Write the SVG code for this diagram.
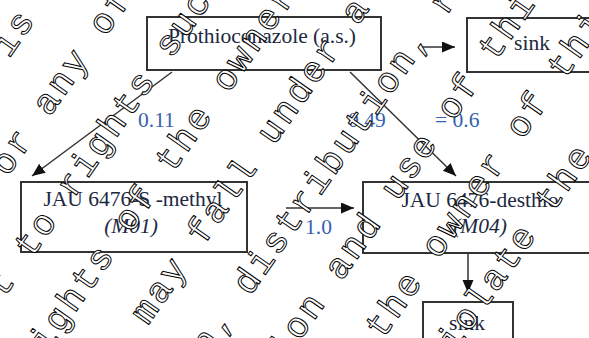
<svg xmlns="http://www.w3.org/2000/svg" width="589" height="338" viewBox="0 0 589 338">
  <style>
    .box { fill: #fff; stroke: #333; stroke-width: 2; }
    .lbl { font-family: "Liberation Serif", "Times New Roman", serif; font-size: 21.5px; fill: #202840; }
    .num { font-family: "Liberation Serif", "Times New Roman", serif; font-size: 21.5px; fill: #3462b0; }
    .it { font-style: italic; }
    .edge { stroke: #333; stroke-width: 1.5; fill: none; marker-end: url(#head); }
    .wm { font-family: "Liberation Mono", "Courier New", monospace; font-size: 36px; letter-spacing: 2.8px; fill: #fff; stroke: #000; stroke-width: 1; }
  </style>
  <defs>
    <marker id="head" markerUnits="userSpaceOnUse" markerWidth="14" markerHeight="12" refX="13" refY="5.5" orient="auto">
      <path d="M0,0 L13,5.5 L0,11 Z" fill="#111"/>
    </marker>
  </defs>
  <rect width="589" height="338" fill="#fff"/>

  <!-- connectors -->
  <g id="connectors">
    <line class="edge" x1="172" y1="72" x2="32" y2="176"/>
    <line class="edge" x1="350" y1="72" x2="456" y2="176"/>
    <line class="edge" x1="420" y1="47" x2="455" y2="47"/>
    <line class="edge" x1="286" y1="208" x2="354" y2="208"/>
    <line class="edge" x1="468" y1="253" x2="468" y2="293"/>
    <text class="num" x="138" y="127">0.11</text>
    <text class="num" x="348" y="127">0.49</text>
    <text class="num" x="435" y="127">= 0.6</text>
    <text class="num" x="305" y="234">1.0</text>
  </g>

  <!-- nodes -->
  <g id="parent">
    <rect class="box" x="147" y="17" width="234" height="53"/>
    <text class="lbl" x="262" y="43" text-anchor="middle">Prothioconazole (a.s.)</text>
  </g>
  <g id="sink-top">
    <rect class="box" x="467" y="18" width="140" height="54"/>
    <text class="lbl" x="532" y="50" text-anchor="middle">sink</text>
  </g>
  <g id="m01">
    <rect class="box" x="21" y="182" width="226" height="70"/>
    <text class="lbl" x="133" y="206" text-anchor="middle">JAU 6476-S -methyl</text>
    <text class="lbl it" x="131" y="233" text-anchor="middle">(M01)</text>
  </g>
  <g id="m04">
    <rect class="box" x="363" y="182" width="240" height="71"/>
    <text class="lbl" x="480" y="207" text-anchor="middle">JAU 6476-desthio</text>
    <text class="lbl it" x="480" y="233" text-anchor="middle">(M04)</text>
  </g>
  <g id="sink-bottom">
    <rect class="box" x="423" y="302" width="90" height="50"/>
    <text class="lbl" x="467" y="330" text-anchor="middle">sink</text>
  </g>

  <!-- diagonal notice overlay -->
  <g id="notice" transform="rotate(-55)">
    <text class="wm" x="-262.6" y="41">document is the property</text>
    <text class="wm" x="-238.7" y="108">and/or any of its affiliates</text>
    <text class="wm" x="-389.4" y="174.5">subject to rights such as</text>
    <text class="wm" x="-409.7" y="241">copy rights of the owner and third</text>
    <text class="wm" x="-402" y="308">document may fall under a regulatory</text>
    <text class="wm" x="-416.9" y="375">publication, distribution, reproduction</text>
    <text class="wm" x="-352.2" y="441.5">exploitation and use of this document</text>
    <text class="wm" x="-401" y="508.5">permission of the owner of this document</text>
    <text class="wm" x="-150.8" y="575">and violate the rights of its owner</text>
  </g>
</svg>
